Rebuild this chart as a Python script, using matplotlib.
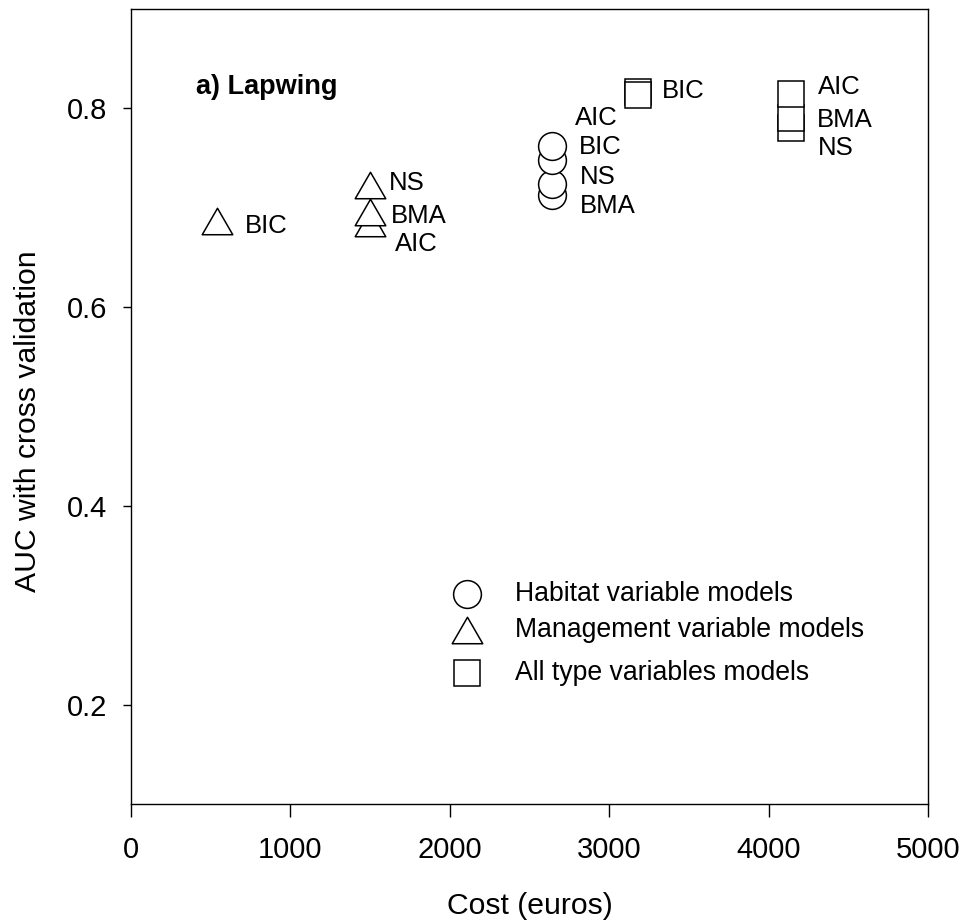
import numpy as np
import matplotlib.pyplot as plt
from matplotlib.path import Path

plt.rcParams['font.family'] = ['Liberation Sans', 'DejaVu Sans']

# habitat variable models (circles)
hab_cost = [2640, 2640, 2640, 2640]
hab_auc = [0.713, 0.724, 0.748, 0.762]
hab_names = ['BMA', 'NS', 'BIC', 'AIC']

# management variable models (triangles)
man_cost = [540, 1500, 1500, 1500]
man_auc = [0.687, 0.685, 0.696, 0.723]
man_names = ['BIC', 'AIC', 'BMA', 'NS']

# all type variables models (squares)
all_cost = [3180, 3180, 4140, 4140, 4140]
all_auc = [0.816, 0.813, 0.780, 0.790, 0.814]
all_names = ['AIC', 'BIC', 'NS', 'BMA', 'AIC']

# label positions for the point names
lab_x = [715, 1656, 1629, 1620, 2785, 2810, 2817, 2817, 3329, 4312, 4302, 4310]
lab_y = [0.682, 0.664, 0.692, 0.725, 0.7905, 0.761, 0.731, 0.7015, 0.8175, 0.822, 0.7885, 0.760]
lab_txt = ['BIC', 'AIC', 'BMA', 'NS', 'AIC', 'BIC', 'NS', 'BMA', 'BIC', 'AIC', 'BMA', 'NS']

legend_names = ['Habitat variable models', 'Management variable models', 'All type variables models']

tri = Path([(-1, -0.866), (1, -0.866), (0, 0.866), (-1, -0.866)],
           [Path.MOVETO, Path.LINETO, Path.LINETO, Path.CLOSEPOLY])

fig = plt.figure(figsize=(9.64, 9.24), dpi=100)
ax = fig.add_axes([131 / 964, 1 - 804 / 924, 797 / 964, 795 / 924])

style = dict(mfc='white', mec='black', mew=1.1, ls='none')
for c, a in zip(hab_cost, hab_auc):
    ax.plot(c, a, marker='o', ms=20, **style)
for c, a in zip(man_cost, man_auc):
    ax.plot(c, a, marker=tri, ms=22, **style)
for c, a in zip(all_cost, all_auc):
    ax.plot(c, a, marker='s', ms=19, **style)

for x, y, t in zip(lab_x, lab_y, lab_txt):
    ax.text(x, y, t, fontsize=18.5, va='center', ha='left')

ax.text(406, 0.814, 'a) Lapwing', fontsize=19.5, fontweight='bold', va='baseline')

# legend drawn by hand
leg_y = [0.2638, 0.2183, 0.1644]
leg_m = ['o', tri, 's']
leg_ms = [20, 22, 19]
for y, m, s, t in zip(leg_y, leg_m, leg_ms, legend_names):
    ax.plot(0.422, y, marker=m, ms=s, transform=ax.transAxes, clip_on=False, **style)
    ax.text(0.482, y, t, fontsize=19.2, va='center', ha='left', transform=ax.transAxes)

ax.set_xlim(0, 5000)
ax.set_ylim(0.1, 0.9)
ax.set_xticks(np.arange(0, 5001, 1000))
ax.set_yticks([0.2, 0.4, 0.6, 0.8])
ax.set_yticklabels(['0.2', '0.4', '0.6', '0.8'])
ax.tick_params(axis='x', direction='out', length=9, width=1, labelsize=21, pad=14)
ax.tick_params(axis='y', direction='out', length=6, width=1, labelsize=21, pad=11)
for sp in ax.spines.values():
    sp.set_linewidth(1.0)

ax.set_xlabel('Cost (euros)', fontsize=21.7, labelpad=20)
ax.set_ylabel('AUC with cross validation', fontsize=21.7)
ax.yaxis.set_label_coords(-0.112, 0.482)

fig.savefig('out.png', dpi=100)
